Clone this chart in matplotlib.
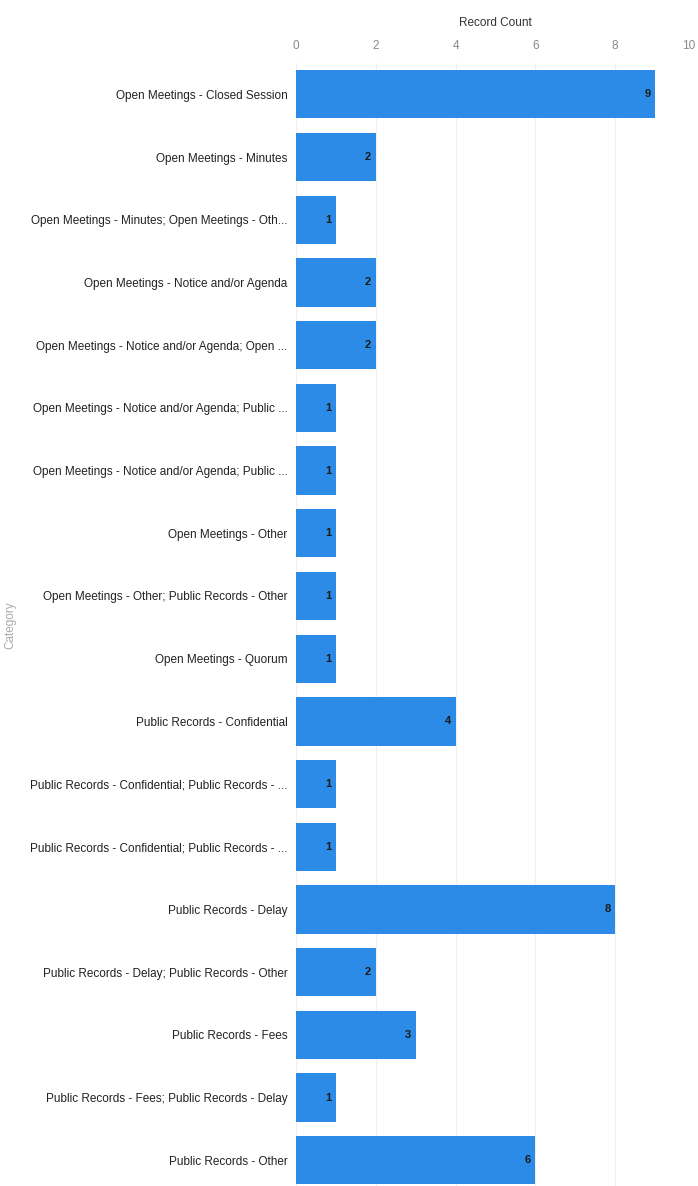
import matplotlib.pyplot as plt
import numpy as np

categories = [
    "Open Meetings - Closed Session",
    "Open Meetings - Minutes",
    "Open Meetings - Minutes; Open Meetings - Oth...",
    "Open Meetings - Notice and/or Agenda",
    "Open Meetings - Notice and/or Agenda; Open ...",
    "Open Meetings - Notice and/or Agenda; Public ...",
    "Open Meetings - Notice and/or Agenda; Public ...",
    "Open Meetings - Other",
    "Open Meetings - Other; Public Records - Other",
    "Open Meetings - Quorum",
    "Public Records - Confidential",
    "Public Records - Confidential; Public Records - ...",
    "Public Records - Confidential; Public Records - ...",
    "Public Records - Delay",
    "Public Records - Delay; Public Records - Other",
    "Public Records - Fees",
    "Public Records - Fees; Public Records - Delay",
    "Public Records - Other",
]
counts = [9, 2, 1, 2, 2, 1, 1, 1, 1, 1, 4, 1, 1, 8, 2, 3, 1, 6]
xticks = [0, 2, 4, 6, 8, 10]

bar_color = "#2b8be6"
font = ["Liberation Sans", "DejaVu Sans"]

fig = plt.figure(figsize=(6.98, 11.86), dpi=100)
ax = fig.add_axes([296 / 698, 0, 399 / 698, 1123 / 1186])

y = np.arange(len(categories))
ax.barh(y, counts, height=0.77, color=bar_color, zorder=2)

for yi, c in zip(y, counts):
    ax.text(c - 0.12, yi, str(c), ha="right", va="center", fontsize=8,
            color="#1a1a1a", family=font, fontweight="bold", zorder=3)

ax.set_xlim(0, 10)
ax.set_ylim(17.41, -0.5)
ax.set_yticks(y)
ax.set_yticklabels(categories, family=font, fontsize=8.5, color="#222222")
ax.set_xticks(xticks)
ax.xaxis.tick_top()
ax.xaxis.set_label_position("top")
ax.set_xticklabels([str(t) for t in xticks], family=font, fontsize=8.5, color="#888888")
# keep the last tick label inside the figure
ax.xaxis.get_major_ticks()[-1].label2.set_horizontalalignment("right")
ax.set_xlabel("Record Count", family=font, fontsize=8.5, color="#333333", labelpad=10)
ax.tick_params(axis="both", length=0, pad=6)
ax.tick_params(axis="x", pad=8)

ax.grid(axis="x", color="#f0f0f0", linewidth=0.8, zorder=0)
for s in ax.spines.values():
    s.set_visible(False)

fig.text(10 / 698, 1 - 625 / 1186, "Category", rotation=90, ha="center", va="center",
         family=font, fontsize=8.5, color="#aaaaaa")

fig.savefig("out.png", dpi=100)
